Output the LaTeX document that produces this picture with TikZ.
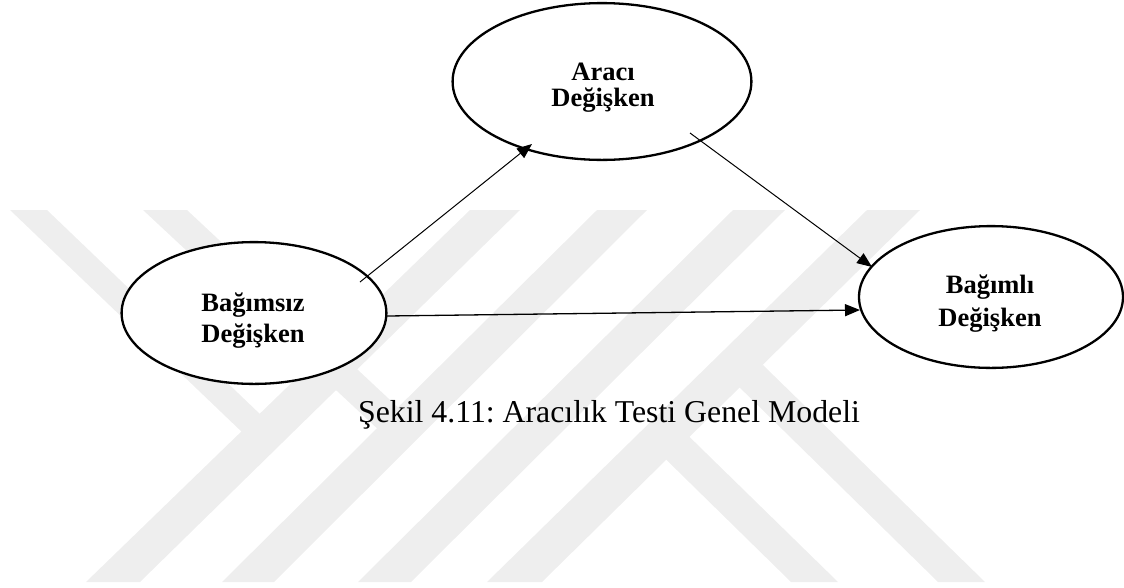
\documentclass[tikz,border=0pt]{standalone}
\usepackage{fontspec}
\setmainfont{Liberation Serif}
\usetikzlibrary{arrows.meta,calc,shapes.geometric}
\definecolor{wm}{HTML}{EEEEEE}
\frenchspacing
\begin{document}
\begin{tikzpicture}[x=1pt,y=-1pt,
  var/.style={ellipse, draw, line width=2.3pt, fill=white, inner sep=0pt},
  lbl/.style={font=\fontsize{26.5}{26.5}\selectfont\bfseries, inner sep=0pt, anchor=base},
  conn/.style={line width=1pt, -{Triangle[length=15pt,width=12pt]}},
  wmark/.style={fill=wm, draw=none}]
\useasboundingbox (0,0) rectangle (1124,587);
% watermark
\fill[wmark] (86,582) -- (140,582) -- (520,210) -- (470,210) -- cycle;
\fill[wmark] (222,582) -- (274,582) -- (647,210) -- (597,210) -- cycle;
\fill[wmark] (358,582) -- (411,582) -- (785,210) -- (733,210) -- cycle;
\fill[wmark] (487,582) -- (542,582) -- (920,210) -- (867,210) -- cycle;
\fill[wmark] (10,210) -- (47,210) -- (262,416) -- (244,434) -- cycle;
\fill[wmark] (143,210) -- (187,210) -- (404,413) -- (382,433) -- cycle;
\fill[wmark] (791,582) -- (838,582) -- (662,410) -- (675,405) -- (652,428) -- (639,433) -- cycle;
\fill[wmark] (938,582) -- (985,582) -- (763,365) -- (732,380) -- cycle;
% variables
\node[var, minimum width=298.8pt, minimum height=156.8pt] (med) at (602,81.5) {};
\node[var, minimum width=264.8pt, minimum height=141.8pt] (ind) at (254,313) {};
\node[var, minimum width=264pt, minimum height=141.8pt] (dep) at (991,297) {};
\node[lbl] (med1) at (603,80) {Aracı};
\node[lbl] (med2) at (603,106) {Değişken};
\node[lbl] (ind1) at (253,311) {Bağımsız};
\node[lbl] (ind2) at (253,342) {Değişken};
\node[lbl] (dep1) at (990,293) {Bağımlı};
\node[lbl] (dep2) at (990,326) {Değişken};
% connector ends
\coordinate (s1) at ($(ind.center)+(106,-31)$);
\coordinate (t1) at ($(med.center)+(-70,62.5)$);
\coordinate (s2) at ($(med.center)+(88,51.5)$);
\coordinate (t2) at ($(dep.center)+(-119,-30)$);
\coordinate (s3) at ($(ind.center)+(133,3)$);
\coordinate (t3) at ($(dep.center)+(-131,13)$);
\draw[conn] (s1) -- (t1);
\draw[conn] (s2) -- (t2);
\draw[conn, line width=1.3pt] (s3) -- (t3);
% caption
\node[font=\fontsize{31.8}{31.8}\selectfont, inner sep=0pt, anchor=base] (cap) at (609,422) {Şekil 4.11: Aracılık Testi Genel Modeli};
\end{tikzpicture}
\end{document}
